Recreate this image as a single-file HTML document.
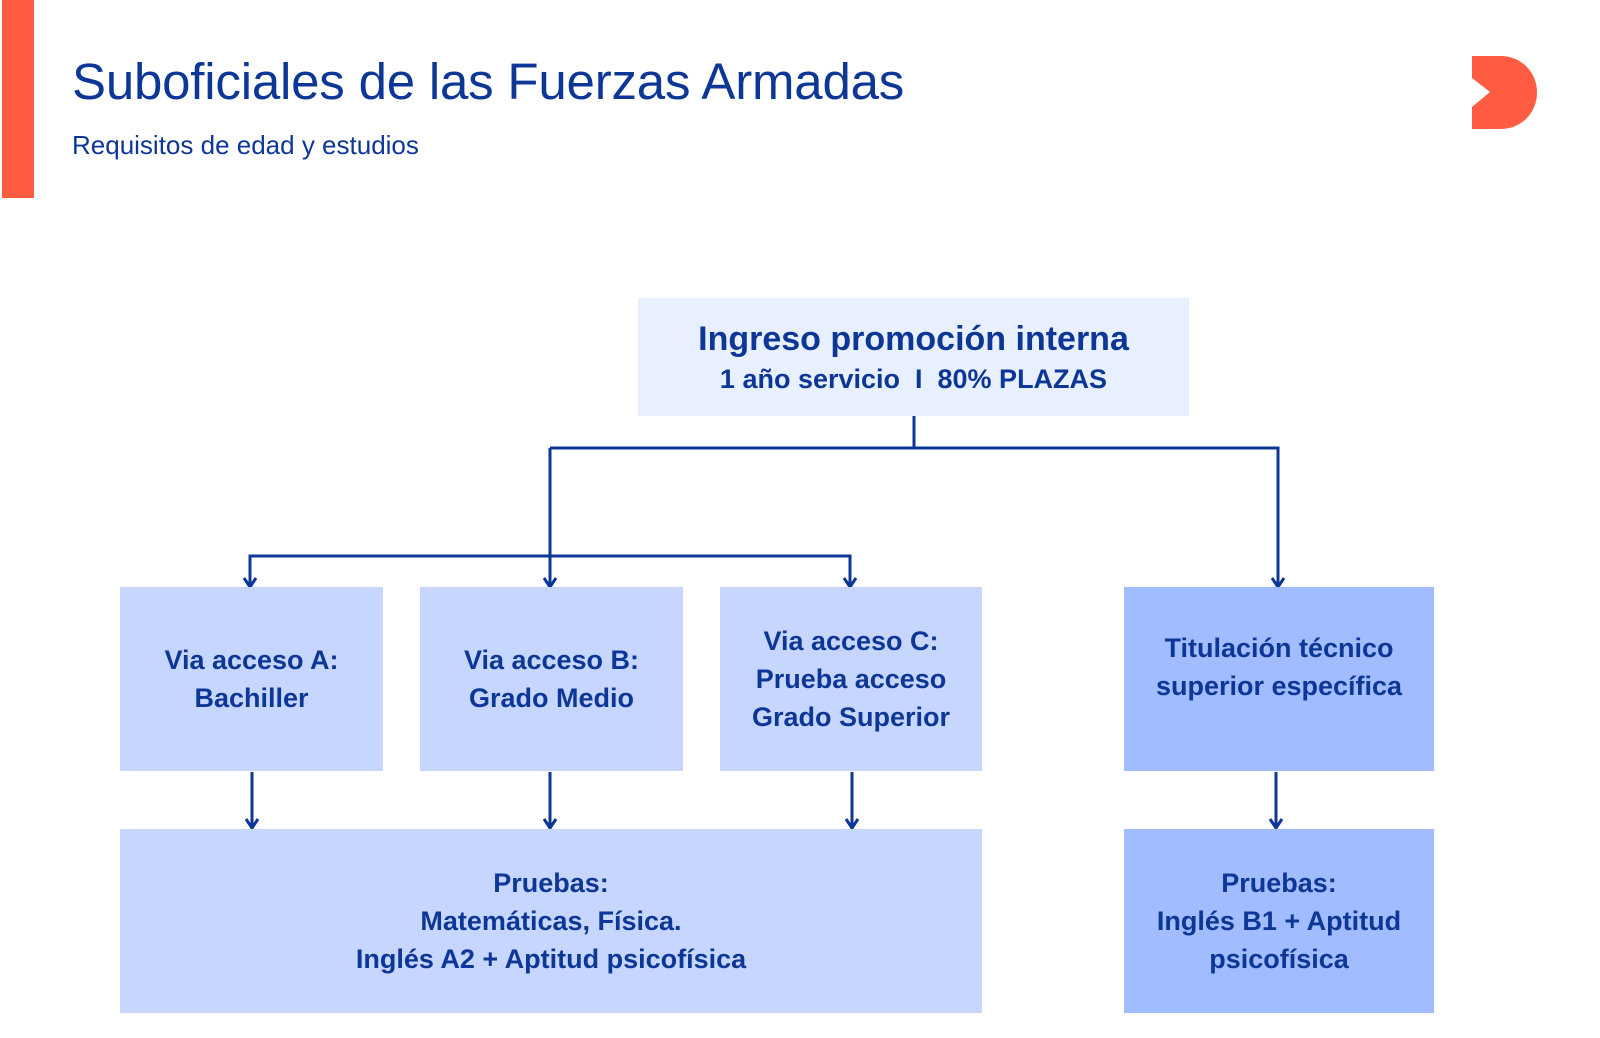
<!DOCTYPE html>
<html><head><meta charset="utf-8"><style>
body{margin:0;width:1600px;height:1038px;background:#fff;position:relative;overflow:hidden;font-family:"Liberation Sans",sans-serif;color:#0d3796}
.bx{position:absolute;display:flex;align-items:center;justify-content:center;text-align:center;font-weight:bold;font-size:27px;line-height:38px}
.l{background:#c6d6ff}.d{background:#a1bcff}
</style></head><body>
<div style="position:absolute;left:2px;top:0;width:32px;height:198px;background:#ff5c41"></div>
<div style="position:absolute;left:72px;top:52px;font-size:51px;line-height:60px;letter-spacing:-0.2px">Suboficiales de las Fuerzas Armadas</div>
<div style="position:absolute;left:72px;top:129px;font-size:26px;line-height:32px">Requisitos de edad y estudios</div>
<svg style="position:absolute;left:0;top:0" width="1600" height="1038">
<path d="M1472 56 H1501 A36 36 0 0 1 1537 92 V93 A36 36 0 0 1 1501 129 H1472 V107 L1490 92 L1472 78 Z" fill="#ff5c41"/>
<g stroke="#0d3796" stroke-width="3" fill="none">
<path d="M914 416 V448 M550 448 H1278 V586 M550 448 V586 M250 586 V556 H850 V586"/>
<path d="M252 772 V827 M550 772 V827 M852 772 V827 M1276 772 V827"/>
<path d="M244 578 L250 587 L256 578 M544 578 L550 587 L556 578 M844 578 L850 587 L856 578 M1272 578 L1278 587 L1284 578"/>
<path d="M246 819 L252 828 L258 819 M544 819 L550 828 L556 819 M846 819 L852 828 L858 819 M1270 819 L1276 828 L1282 819"/>
</g></svg>
<div class="bx" style="left:638px;top:298px;width:551px;height:118px;background:#e8efff;flex-direction:column">
<div style="font-size:34px;line-height:44px">Ingreso promoción interna</div>
<div style="font-size:27px;line-height:36px">1 año servicio&nbsp; I&nbsp; 80% PLAZAS</div></div>
<div class="bx l" style="left:120px;top:587px;width:263px;height:184px">Via acceso A:<br>Bachiller</div>
<div class="bx l" style="left:420px;top:587px;width:263px;height:184px">Via acceso B:<br>Grado Medio</div>
<div class="bx l" style="left:720px;top:587px;width:262px;height:184px">Via acceso C:<br>Prueba acceso<br>Grado Superior</div>
<div class="bx d" style="left:1124px;top:587px;width:310px;height:184px;padding-bottom:24px;box-sizing:border-box">Titulación técnico<br>superior específica</div>
<div class="bx l" style="left:120px;top:829px;width:862px;height:184px">Pruebas:<br>Matemáticas, Física.<br>Inglés A2 + Aptitud psicofísica</div>
<div class="bx d" style="left:1124px;top:829px;width:310px;height:184px">Pruebas:<br>Inglés B1 + Aptitud<br>psicofísica</div>
</body></html>
